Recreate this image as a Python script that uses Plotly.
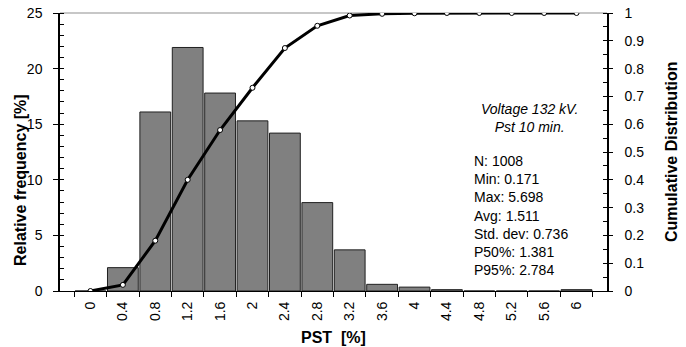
import plotly.graph_objects as go

# PST class labels (upper bound of each 0.4 % bin)
pst_bins = ["0", "0.4", "0.8", "1.2", "1.6", "2", "2.4", "2.8", "3.2",
            "3.6", "4", "4.4", "4.8", "5.2", "5.6", "6"]
# Relative frequency of each bin [%]
rel_freq = [0, 2.1, 16.1, 21.9, 17.8, 15.3, 14.2, 7.95, 3.7,
            0.6, 0.35, 0.12, 0, 0, 0, 0.12]
# Cumulative distribution at each bin
cum_dist = [0, 0.022, 0.181, 0.40, 0.579, 0.731, 0.874, 0.954, 0.991,
            0.997, 0.999, 1.0, 1.0, 1.0, 1.0, 1.0]

title_lines = ["Voltage 132 kV.", "Pst 10 min."]
stats_lines = ["N: 1008", "Min: 0.171", "Max: 5.698", "Avg: 1.511",
               "Std. dev: 0.736", "P50%: 1.381", "P95%: 2.784"]

FONT = "Liberation Sans, Arial, Helvetica, sans-serif"
TICK = 14
TITLE = 16
NOTE = 14

fig = go.Figure()
fig.add_trace(go.Bar(
    x=pst_bins, y=rel_freq,
    marker=dict(color="#808080", line=dict(color="#202020", width=1)),
    yaxis="y", showlegend=False,
))
fig.add_trace(go.Scatter(
    x=pst_bins, y=cum_dist, mode="lines+markers",
    line=dict(color="black", width=3),
    marker=dict(symbol="circle", size=5, color="white",
                line=dict(color="black", width=1)),
    yaxis="y2", showlegend=False,
))

fig.update_layout(
    width=686, height=347,
    margin=dict(l=60, r=79, t=13, b=56),
    paper_bgcolor="white", plot_bgcolor="white",
    font=dict(family=FONT, size=TICK, color="black"),
    bargap=0.05,
    xaxis=dict(
        type="category", tickangle=-90, tickson="boundaries",
        ticks="outside", ticklen=5, tickcolor="black",
        showline=True, linecolor="black", linewidth=1,
        showgrid=False, zeroline=False, automargin=False,
        tickfont=dict(size=TICK), ticklabelstandoff=4,
    ),
    yaxis=dict(
        range=[0, 25], tickvals=[0, 5, 10, 15, 20, 25],
        ticks="outside", ticklen=5, tickcolor="black",
        minor=dict(dtick=1, ticks="inside", ticklen=4, tickcolor="black"),
        showline=True, linecolor="black", linewidth=1.5,
        showgrid=False, zeroline=False, automargin=False,
        tickfont=dict(size=TICK), ticklabelstandoff=8,
    ),
    yaxis2=dict(
        range=[0, 1], overlaying="y", side="right",
        tickvals=[0, 0.1, 0.2, 0.3, 0.4, 0.5, 0.6, 0.7, 0.8, 0.9, 1],
        ticktext=["0", "0.1", "0.2", "0.3", "0.4", "0.5", "0.6", "0.7", "0.8", "0.9", "1"],
        ticks="outside", ticklen=4, tickcolor="black",
        minor=dict(dtick=0.05, ticks="inside", ticklen=4, tickcolor="black"),
        showline=True, linecolor="black", linewidth=1.5,
        showgrid=False, zeroline=False, automargin=False,
        tickfont=dict(size=TICK), ticklabelstandoff=9,
    ),
)

# light border along the top of the plot area
fig.add_shape(type="line", xref="paper", yref="paper", x0=0, x1=1, y0=1, y1=1,
              line=dict(color="#b4b4b4", width=1.5), layer="below")

# axis titles
fig.add_annotation(xref="paper", yref="paper", x=0.5, y=-0.169,
                   text="<b>PST  [%]</b>", showarrow=False,
                   xanchor="center", yanchor="middle", font=dict(size=TITLE))
fig.add_annotation(xref="paper", yref="paper", x=-0.071, y=0.40,
                   text="<b>Relative frequency [%]</b>", showarrow=False, textangle=-90,
                   xanchor="center", yanchor="middle", font=dict(size=TITLE))
fig.add_annotation(xref="paper", yref="paper", x=1.117, y=0.5,
                   text="<b>Cumulative Distribution</b>", showarrow=False, textangle=-90,
                   xanchor="center", yanchor="middle", font=dict(size=TITLE))

# measurement description
fig.add_annotation(xref="paper", yref="paper", x=0.859, y=0.624,
                   text="<i>" + "<br>".join(title_lines) + "</i>", showarrow=False,
                   align="center", xanchor="center", yanchor="middle",
                   font=dict(size=NOTE))

# summary statistics
fig.add_annotation(xref="paper", yref="paper", x=0.754, y=0.270,
                   text="<br>".join(stats_lines), showarrow=False, align="left",
                   xanchor="left", yanchor="middle", font=dict(size=NOTE))

fig.write_html("out.html")
